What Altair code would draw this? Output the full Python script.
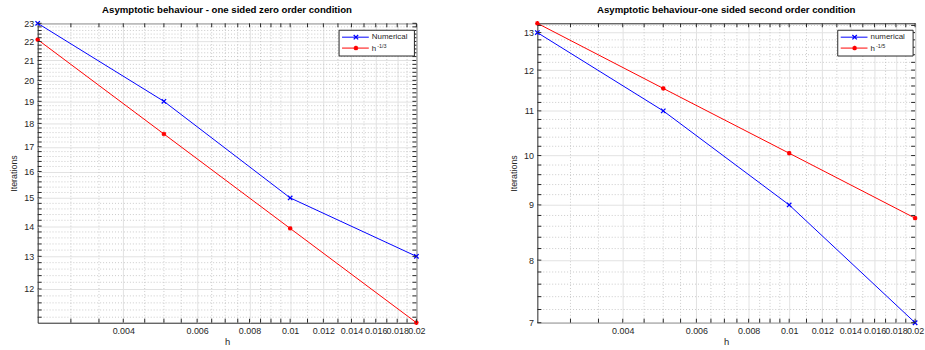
import altair as alt
import pandas as pd

# Step sizes and iteration counts for both boundary conditions
h_vals = [0.0025, 0.005, 0.01, 0.02]
zero_numerical = [23, 19, 15, 13]
zero_reference = [22.10, 17.54, 13.92, 11.05]
second_numerical = [13, 11, 9, 7]
second_reference = [13.26, 11.54, 10.05, 8.75]

# Axis ticks
x_major = [0.004, 0.006, 0.008, 0.01, 0.012, 0.014, 0.016, 0.018, 0.02]
x_minor = [0.003, 0.0035, 0.0045, 0.005, 0.0055, 0.0065, 0.007, 0.0075,
           0.0085, 0.009, 0.0095, 0.011, 0.013, 0.015, 0.017, 0.019]
zero_y_major = [12, 13, 14, 15, 16, 17, 18, 19, 20, 21, 22, 23]
second_y_major = [7, 8, 9, 10, 11, 12, 13]

FONT = "Liberation Sans"
TEXT = "#262626"
BLUE = "#0000ff"
RED = "#ff0000"
MAJOR_GRID = "#e2e2e2"
MINOR_GRID = "#bdbdbd"
H = 302
TICK = 4

X_MARK = "M-1,-1L1,1M-1,1L1,-1"
STAR_MARK = "M-1,0L1,0M0,-1L0,1M-0.75,-0.75L0.75,0.75M-0.75,0.75L0.75,-0.75"


def minor_steps(lo, hi):
    # dotted minor grid every 0.2 between the labelled integers
    return [v / 5 for v in range(int(lo * 5) + 1, int(hi * 5) + 1) if v % 5 != 0]


def panel(title, numerical, reference, num_label, ref_sup, y_domain, y_major, width):
    xs = alt.Scale(type="log", domain=[h_vals[0], h_vals[-1]], nice=False)
    ys = alt.Scale(type="log", domain=y_domain, nice=False)
    y_minor = minor_steps(*y_domain)

    data = pd.DataFrame({
        "h": h_vals * 2,
        "iterations": numerical + reference,
        "series": [num_label] * 4 + ["ref"] * 4,
    })
    color = alt.Color("series:N", legend=None,
                      scale=alt.Scale(domain=[num_label, "ref"], range=[BLUE, RED]))
    shape = alt.Shape("series:N", legend=None,
                      scale=alt.Scale(domain=[num_label, "ref"], range=[X_MARK, STAR_MARK]))

    x_axis = alt.Axis(values=x_major, format="~g", title="h", grid=True, ticks=False,
                      domain=False, labelFlush=False, labelOverlap=False, labelBound=False,
                      labelFontSize=9, labelPadding=4, titleFontSize=9.5,
                      titleFontWeight="normal", titlePadding=1)
    y_axis = alt.Axis(values=y_major, format="d", title="Iterations", grid=True,
                      ticks=False, domain=False, labelFontSize=9, labelPadding=4,
                      labelOverlap=False, labelFlush=False, labelBound=False,
                      titleFontSize=9, titleFontWeight="normal", titlePadding=5)

    def X():
        return alt.X("h:Q", scale=xs, axis=x_axis)

    def Y():
        return alt.Y("iterations:Q", scale=ys, axis=y_axis)

    xt = pd.DataFrame({"h": x_major + x_minor})
    xm = pd.DataFrame({"h": x_minor})
    yt = pd.DataFrame({"iterations": y_major + y_minor})
    ym = pd.DataFrame({"iterations": y_minor})

    def tick_rule(df):
        return alt.Chart(df).mark_rule(color=TEXT, strokeWidth=1)

    minor_x = alt.Chart(xm).mark_rule(color=MINOR_GRID, strokeWidth=0.8, strokeDash=[1, 2]).encode(
        x=X(), y=alt.value(0), y2=alt.value(H))
    minor_y = alt.Chart(ym).mark_rule(color=MINOR_GRID, strokeWidth=0.8, strokeDash=[1, 2]).encode(
        y=Y(), x=alt.value(0), x2=alt.value(width))

    lines = alt.Chart(data).mark_line(strokeWidth=1).encode(
        x=X(), y=Y(), color=color, detail="series:N")
    points = alt.Chart(data).mark_point(filled=False, size=20, strokeWidth=1.3, opacity=1).encode(
        x=X(), y=Y(), color=color, shape=shape)

    ticks_bottom = tick_rule(xt).encode(x=X(), y=alt.value(H), y2=alt.value(H - TICK))
    ticks_top = tick_rule(xt).encode(x=X(), y=alt.value(0), y2=alt.value(TICK))
    ticks_left = tick_rule(yt).encode(y=Y(), x=alt.value(0), x2=alt.value(TICK))
    ticks_right = tick_rule(yt).encode(y=Y(), x=alt.value(width), x2=alt.value(width - TICK))

    # legend box in the upper right corner
    lg = pd.DataFrame({"num": [num_label], "ref": ["h"], "sup": [ref_sup]})
    bx0, bx1 = width - 78, width - 2
    box = alt.Chart(lg).mark_rect(fill="white", stroke=TEXT, strokeWidth=1).encode(
        x=alt.value(bx0), x2=alt.value(bx1), y=alt.value(7), y2=alt.value(33))
    lx0, lx1, lxm, tx = bx0 + 3, bx0 + 30, bx0 + 17, bx0 + 33
    row1, row2 = 14, 25
    leg_line1 = alt.Chart(lg).mark_rule(color=BLUE, strokeWidth=1).encode(
        x=alt.value(lx0), x2=alt.value(lx1), y=alt.value(row1))
    leg_line2 = alt.Chart(lg).mark_rule(color=RED, strokeWidth=1).encode(
        x=alt.value(lx0), x2=alt.value(lx1), y=alt.value(row2))
    leg_pt1 = alt.Chart(lg).mark_point(shape=X_MARK, filled=False, size=20, strokeWidth=1.3,
                                       color=BLUE, opacity=1).encode(
        x=alt.value(lxm), y=alt.value(row1))
    leg_pt2 = alt.Chart(lg).mark_point(shape=STAR_MARK, filled=False, size=20, strokeWidth=1.3,
                                       color=RED, opacity=1).encode(
        x=alt.value(lxm), y=alt.value(row2))
    leg_t1 = alt.Chart(lg).mark_text(align="left", baseline="middle", font=FONT,
                                     fontSize=8, color=TEXT).encode(
        x=alt.value(tx), y=alt.value(row1), text="num:N")
    leg_t2 = alt.Chart(lg).mark_text(align="left", baseline="middle", font=FONT,
                                     fontSize=8, color=TEXT).encode(
        x=alt.value(tx), y=alt.value(row2 + 1), text="ref:N")
    leg_t3 = alt.Chart(lg).mark_text(align="left", baseline="middle", font=FONT,
                                     fontSize=5.5, color=TEXT).encode(
        x=alt.value(tx + 5.5), y=alt.value(row2 - 2.5), text="sup:N")

    return alt.layer(
        minor_x, minor_y, lines, points,
        ticks_bottom, ticks_top, ticks_left, ticks_right,
        box, leg_line1, leg_line2, leg_pt1, leg_pt2, leg_t1, leg_t2, leg_t3,
    ).properties(
        width=width, height=H,
        title=alt.Title(title, frame="group", anchor="middle"),
    )


left = panel("Asymptotic behaviour - one sided zero order condition",
             zero_numerical, zero_reference, "Numerical", "-1/3",
             [11.05, 23], zero_y_major, 382)
right = panel("Asymptotic behaviour-one sided second order condition",
              second_numerical, second_reference, "numerical", "-1/5",
              [7, 13.26], second_y_major, 381)

chart = alt.hconcat(left, right, spacing=122, bounds="flush").properties(
    padding={"left": 9, "top": 2, "right": 0, "bottom": 0},
).configure_view(
    stroke=TEXT, strokeWidth=1,
).configure_axis(
    labelFont=FONT, titleFont=FONT, labelColor=TEXT, titleColor=TEXT,
    gridColor=MAJOR_GRID, gridWidth=1, gridOpacity=1,
).configure_title(
    font=FONT, fontSize=9.7, fontWeight="bold", color="black", offset=0,
)

chart.save("out.html", embed_options={"renderer": "svg", "actions": False})
